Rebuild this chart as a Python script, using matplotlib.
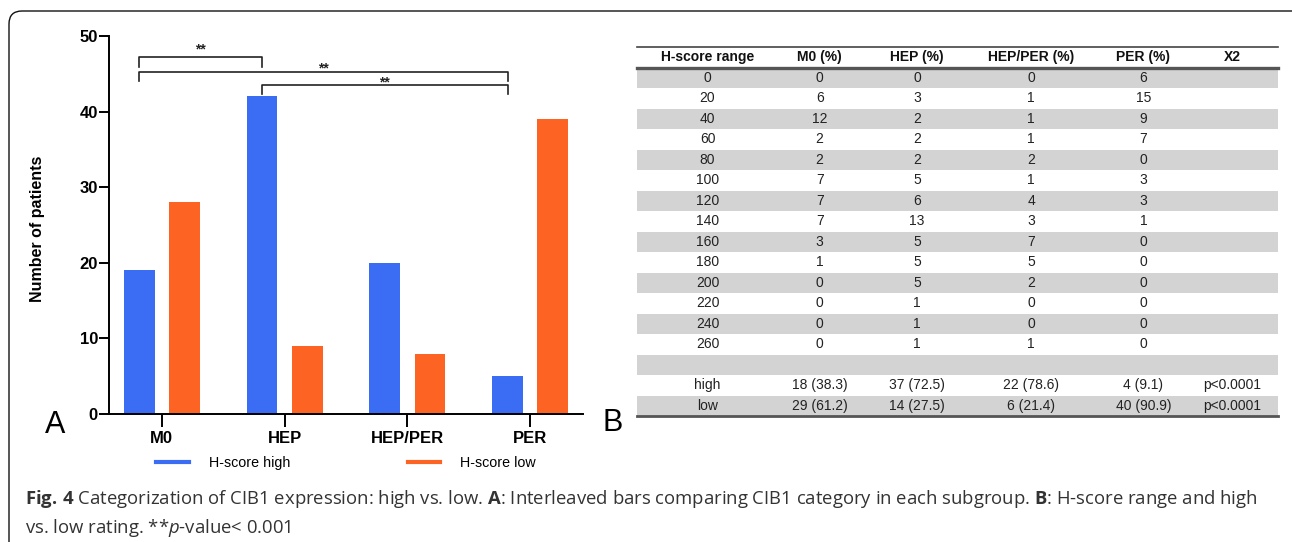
import matplotlib
matplotlib.use("Agg")
import matplotlib.pyplot as plt
from matplotlib.lines import Line2D
from matplotlib.patches import FancyBboxPatch
import numpy as np

# bar chart data (panel A)
groups = ["M0", "HEP", "HEP/PER", "PER"]
score_high = [19, 42, 20, 5]
score_low = [28, 9, 8, 39]
# significance brackets: (left group, right group, bar height, tick drop, star lift)
brackets = [(0, 1, 47.2, 1.3, 0.05), (0, 3, 45.3, 1.3, -0.55), (1, 3, 43.5, 1.2, -0.55)]

# table data (panel B)
header = ["H-score range", "M0 (%)", "HEP (%)", "HEP/PER (%)", "PER (%)", "X2"]
hscore = [0, 20, 40, 60, 80, 100, 120, 140, 160, 180, 200, 220, 240, 260]
m0 = [0, 6, 12, 2, 2, 7, 7, 7, 3, 1, 0, 0, 0, 0]
hep = [0, 3, 2, 2, 2, 5, 6, 13, 5, 5, 5, 1, 1, 1]
hep_per = [0, 1, 1, 1, 2, 1, 4, 3, 7, 5, 2, 0, 0, 1]
per = [6, 15, 9, 7, 0, 3, 3, 1, 0, 0, 0, 0, 0, 0]
high_n = [18, 37, 22, 4]
high_pct = [38.3, 72.5, 78.6, 9.1]
low_n = [29, 14, 6, 40]
low_pct = [61.2, 27.5, 21.4, 90.9]
chi_p = "p<0.0001"

blue = "#3a6cf4"
orange = "#fd6424"

plt.rcParams["mathtext.fontset"] = "custom"
plt.rcParams["mathtext.rm"] = "Open Sans"
plt.rcParams["mathtext.bf"] = "Open Sans:bold"
plt.rcParams["mathtext.it"] = "Open Sans:italic"

fig = plt.figure(figsize=(12.92, 5.42), dpi=100)
W, H = 1292, 542

# outer rounded frame
frame = FancyBboxPatch((0.09, -0.6), 13.5, 5.91, boxstyle="round,pad=0,rounding_size=0.13",
                       transform=fig.dpi_scale_trans, fill=False, lw=1.0, ec="#111111")
fig.patches.append(frame)

# ---- panel A ----
ax = fig.add_axes([109 / W, 1 - 414 / H, 474 / W, 378 / H])
x = np.arange(len(groups))
off = 0.184
bw = 0.25
ax.bar(x - off, score_high, bw, color=blue)
ax.bar(x + off, score_low, bw, color=orange)
ax.set_xlim(-0.43, 3.43)
ax.set_ylim(0, 50)
ax.set_yticks([0, 10, 20, 30, 40, 50])
ax.set_xticks(x)
ax.set_xticklabels(groups)
for s in ["top", "right"]:
    ax.spines[s].set_visible(False)
for s in ["left", "bottom"]:
    ax.spines[s].set_linewidth(1.4)
ax.tick_params(axis="y", length=7, width=1.4, pad=1)
ax.tick_params(axis="x", length=9, width=1.4, pad=3)
for lab in ax.get_xticklabels() + ax.get_yticklabels():
    lab.set_fontfamily("Liberation Sans")
    lab.set_fontweight("bold")
    lab.set_fontsize(12)
ax.set_ylabel("Number of patients", fontfamily="Liberation Sans", fontweight="bold", fontsize=11.5)
ax.yaxis.set_label_coords(-0.135, 0.49)

for i, j, h, d, lift in brackets:
    xl = x[i] - off
    xr = x[j] - off
    ax.plot([xl, xl, xr, xr], [h - d, h, h, h - d], color="#222222", lw=1.2, clip_on=False)
    ax.text((xl + xr) / 2, h + lift, "**", ha="center", va="bottom", fontsize=10,
            fontweight="bold", fontfamily="Liberation Sans", color="#222222")

handles = [Line2D([0], [0], color=blue, lw=3), Line2D([0], [0], color=orange, lw=3)]
fig.legend(handles, ["H-score high", "H-score low"], loc="center", bbox_to_anchor=(346 / W, 1 - 463 / H),
           ncol=2, frameon=False, handlelength=2.3, handletextpad=1.4, columnspacing=8.2,
           prop={"family": "Liberation Sans", "size": 10.3})

fig.text(55 / W, 1 - 425 / H, "A", fontsize=22, fontfamily="Liberation Sans", ha="center", va="center")
fig.text(613 / W, 1 - 423 / H, "B", fontsize=22, fontfamily="Liberation Sans", ha="center", va="center")

# ---- panel B ----
axt = fig.add_axes([637 / W, 1 - 416 / H, 641 / W, 369 / H])
axt.set_xlim(0, 1)
axt.set_ylim(16.5, -1.5)
axt.axis("off")
for r in range(0, 17, 2):
    axt.axhspan(r - 0.5, r + 0.5, color="#d3d3d3", lw=0)
axt.axhline(-1.5, color="#444444", lw=1.2, clip_on=False)
axt.axhline(-0.5, color="#555555", lw=2.4, clip_on=False)
axt.axhline(16.5, color="#555555", lw=2.0, clip_on=False)

colx = [0.11, 0.285, 0.437, 0.615, 0.79, 0.928]
tfont = "Liberation Sans"
tsize = 10
for cx, hd in zip(colx, header):
    axt.text(cx, -1, hd, ha="center", va="center", fontsize=tsize, fontweight="bold",
             family=tfont, color="#111111")

for r, row in enumerate(zip(hscore, m0, hep, hep_per, per)):
    for cx, v in zip(colx, row):
        axt.text(cx, r, str(v), ha="center", va="center", fontsize=tsize, family=tfont, color="#222222")

summary = [("high", high_n, high_pct), ("low", low_n, low_pct)]
for k, (name, ns, ps) in enumerate(summary):
    r = len(hscore) + 1 + k
    axt.text(colx[0], r, name, ha="center", va="center", fontsize=tsize, family=tfont, color="#222222")
    for cx, n, p in zip(colx[1:5], ns, ps):
        axt.text(cx, r, f"{n} ({p})", ha="center", va="center", fontsize=tsize, family=tfont, color="#222222")
    axt.text(colx[5], r, chi_p, ha="center", va="center", fontsize=tsize, family=tfont, color="#222222")

# caption
cap1 = (r"$\mathbf{Fig.\,4}$ Categorization of CIB1 expression: high vs. low. $\mathbf{A}$: Interleaved bars "
        r"comparing CIB1 category in each subgroup. $\mathbf{B}$: H-score range and high")
cap2 = r"vs. low rating. **$\mathit{p}$-value< 0.001"
fig.text(25 / W, 1 - 499 / H, cap1, fontsize=13.3, fontfamily="Open Sans", color="#333333", va="center")
fig.text(25 / W, 1 - 528 / H, cap2, fontsize=13.3, fontfamily="Open Sans", color="#333333", va="center")

fig.savefig("out.png", dpi=100)
